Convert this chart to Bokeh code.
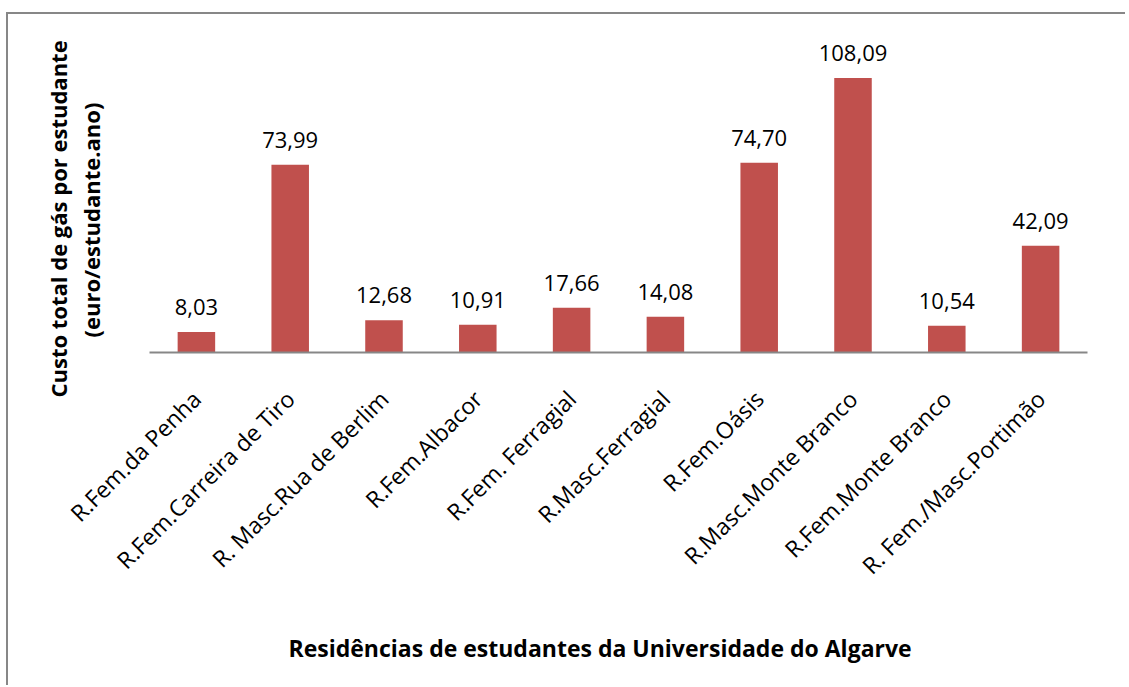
import math
from bokeh.plotting import figure
from bokeh.models import ColumnDataSource, LabelSet, Title, FactorRange, Range1d
from bokeh.core.properties import value
from bokeh.embed import file_html
from bokeh.resources import INLINE

residencias = [
    "R.Fem.da Penha",
    "R.Fem.Carreira de Tiro",
    "R. Masc.Rua de Berlim",
    "R.Fem.Albacor",
    "R.Fem. Ferragial",
    "R.Masc.Ferragial",
    "R.Fem.Oásis",
    "R.Masc.Monte Branco",
    "R.Fem.Monte Branco",
    "R. Fem./Masc.Portimão",
]
custo = [8.03, 73.99, 12.68, 10.91, 17.66, 14.08, 74.70, 108.09, 10.54, 42.09]
rotulos = [f"{v:.2f}".replace(".", ",") for v in custo]

x_title = "Residências de estudantes da Universidade do Algarve"
y_title_1 = "Custo total de gás por estudante"
y_title_2 = "(euro/estudante.ano)"

FONT = "Open Sans"
GRAY = "#878787"

src = ColumnDataSource(dict(r=residencias, v=custo, t=rotulos))

p = figure(
    x_range=FactorRange(*residencias, range_padding=0),
    y_range=Range1d(0, 128),
    width=1119, height=673,
    output_backend="svg", toolbar_location=None,
    min_border_left=141, min_border_right=40,
    min_border_top=13, min_border_bottom=335,
    margin=(12, 0, 0, 6),
)
p.styles = {"border-top": f"2px solid {GRAY}", "border-left": f"2px solid {GRAY}"}
p.outline_line_color = None
p.xgrid.visible = False
p.ygrid.visible = False
p.yaxis.visible = False

p.vbar(x="r", top="v", width=0.4, source=src, fill_color="#C0504D", line_color=None)

xa = p.xaxis[0]
xa.axis_line_color = GRAY
xa.axis_line_width = 2
xa.major_tick_line_color = None
xa.minor_tick_line_color = None
xa.major_label_orientation = math.pi / 4
xa.major_label_text_font = FONT
xa.major_label_text_font_size = "23px"
xa.major_label_text_color = "black"
xa.major_label_standoff = 36

labels = LabelSet(x="r", y="v", text="t", source=src, text_align="center",
                  text_baseline="alphabetic", y_offset=17,
                  text_font=value(FONT), text_font_size="22px", text_color="black")
p.add_layout(labels)

# blank white spacers push the axis titles away from the plot area
p.add_layout(Title(text=" ", text_color="white", text_font_size="1px", standoff=30), "below")
p.add_layout(Title(text=x_title, align="left", offset=139, standoff=4,
                   text_font=FONT, text_font_size="23px", text_font_style="bold",
                   text_color="black"), "below")
p.add_layout(Title(text=" ", text_color="white", text_font_size="1px", standoff=40), "left")
p.add_layout(Title(text=y_title_2, align="left", offset=15, standoff=2,
                   text_font=FONT, text_font_size="22px", text_font_style="bold",
                   text_color="black"), "left")
p.add_layout(Title(text=y_title_1, align="left", offset=-45, standoff=0,
                   text_font=FONT, text_font_size="22px", text_font_style="bold",
                   text_color="black"), "left")

open("out.html", "w").write(file_html(p, INLINE))
